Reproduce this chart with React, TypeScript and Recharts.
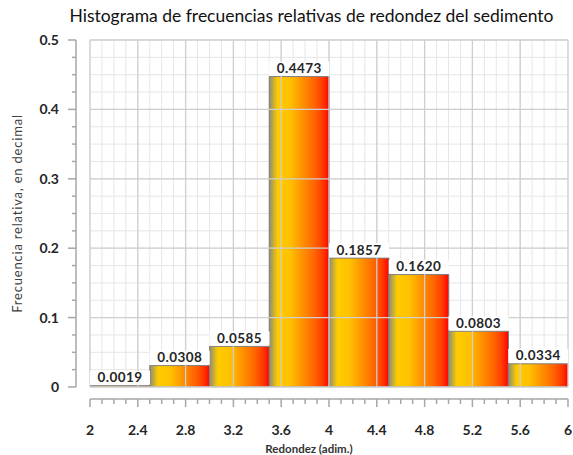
import { Bar, BarChart, CartesianGrid, LabelList, ReferenceLine, XAxis, YAxis } from 'recharts';

const binCenters = [2.25, 2.75, 3.25, 3.75, 4.25, 4.75, 5.25, 5.75];
const frecuencias = [0.0019, 0.0308, 0.0585, 0.4473, 0.1857, 0.162, 0.0803, 0.0334];

const xTicks = [
  2, 2.1, 2.2, 2.3, 2.4, 2.5, 2.6, 2.7, 2.8, 2.9, 3, 3.1, 3.2, 3.3, 3.4, 3.5, 3.6, 3.7, 3.8, 3.9, 4,
  4.1, 4.2, 4.3, 4.4, 4.5, 4.6, 4.7, 4.8, 4.9, 5, 5.1, 5.2, 5.3, 5.4, 5.5, 5.6, 5.7, 5.8, 5.9, 6,
];
const xMajor = [2, 2.4, 2.8, 3.2, 3.6, 4, 4.4, 4.8, 5.2, 5.6, 6];
const yTicks = [
  0, 0.025, 0.05, 0.075, 0.1, 0.125, 0.15, 0.175, 0.2, 0.225, 0.25, 0.275, 0.3, 0.325, 0.35, 0.375,
  0.4, 0.425, 0.45, 0.475, 0.5,
];
const yMajor = [0, 0.1, 0.2, 0.3, 0.4, 0.5];

const data = binCenters.map((mid, i) => ({ mid, frec: frecuencias[i] }));

const FONT = 'Lato, "Open Sans", sans-serif';

const isMajor = (list: number[], v: number) => list.some((m) => Math.abs(m - v) < 1e-6);

function XTick(props: any) {
  const { x, y, payload } = props;
  const major = isMajor(xMajor, payload.value);
  return (
    <g>
      <line x1={x} x2={x} y1={y} y2={y + (major ? 8 : 5)} stroke="#a6a6a6" strokeWidth={1.5} />
      {major && (
        <text x={x} y={y + 36} textAnchor="middle" fontSize={14} fontWeight={700} fill="#262626" fontFamily={FONT}>
          {payload.value}
        </text>
      )}
    </g>
  );
}

function YTick(props: any) {
  const { x, y, payload } = props;
  const major = isMajor(yMajor, payload.value);
  return (
    <g>
      <line x1={x} x2={x - (major ? 8 : 4)} y1={y} y2={y} stroke="#a6a6a6" strokeWidth={1.5} />
      {major && (
        <text x={x - 17} y={y + 5} textAnchor="end" fontSize={14} fontWeight={700} fill="#262626" fontFamily={FONT}>
          {payload.value}
        </text>
      )}
    </g>
  );
}

function BarLabel(props: any) {
  const { x, y, width, value } = props;
  return (
    <g>
      <rect x={x} y={y - 15} width={width} height={14} fill="#ffffff" />
      <text
        x={x + width / 2}
        y={y - 3.5}
        textAnchor="middle"
        fontSize={13.5}
        fontWeight={700}
        letterSpacing={0.4}
        fill="#262626"
        fontFamily={FONT}
      >
        {Number(value).toFixed(4)}
      </text>
    </g>
  );
}

export default function App() {
  return (
    <div style={{ position: 'absolute', left: 0, top: 0, background: '#fff' }}>
      <div
        style={{
          position: 'absolute',
          left: 25,
          top: 5,
          width: 573,
          textAlign: 'center',
          fontFamily: FONT,
          fontSize: 17.5,
          color: '#111',
        }}
      >
        Histograma de frecuencias relativas de redondez del sedimento
      </div>
      <BarChart
        width={573}
        height={455}
        data={data}
        barCategoryGap={0}
        margin={{ top: 40, right: 5, left: 0, bottom: 0 }}
      >
        <defs>
          <linearGradient id="barGrad" x1="0" y1="0" x2="1" y2="0">
            <stop offset="0%" stopColor="#8c8c73" />
            <stop offset="14%" stopColor="#ffcc00" />
            <stop offset="35%" stopColor="#ffc000" />
            <stop offset="55%" stopColor="#ff9200" />
            <stop offset="75%" stopColor="#ff6600" />
            <stop offset="90%" stopColor="#ff3800" />
            <stop offset="100%" stopColor="#ff0000" />
          </linearGradient>
        </defs>
        <CartesianGrid xAxisId="num" yAxisId="y" stroke="#e6e6e6" strokeWidth={1} />
        <XAxis xAxisId="gap" dataKey="mid" height={12} tick={false} axisLine={false} tickLine={false} />
        <XAxis
          xAxisId="num"
          dataKey="mid"
          type="number"
          domain={[2, 6]}
          allowDataOverflow
          ticks={xTicks}
          interval={0}
          height={56}
          tickSize={0}
          tickMargin={0}
          tickLine={false}
          axisLine={{ stroke: '#a6a6a6', strokeWidth: 1.5 }}
          tick={<XTick />}
          label={{
            value: 'Redondez (adim.)',
            position: 'insideBottom',
            offset: 2,
            dx: -20,
            fontSize: 11.5,
            fontWeight: 700,
            fill: '#333',
            fontFamily: FONT,
          }}
        />
        <YAxis
          yAxisId="y"
          domain={[0, 0.5]}
          allowDataOverflow
          ticks={yTicks}
          interval={0}
          width={76}
          tickSize={0}
          tickMargin={0}
          tickLine={false}
          axisLine={{ stroke: '#a6a6a6', strokeWidth: 1.5 }}
          tick={<YTick />}
          label={{
            value: 'Frecuencia relativa, en decimal',
            angle: -90,
            position: 'center',
            dx: -21,
            fontSize: 13,
            letterSpacing: 0.8,
            fill: '#404040',
            fontFamily: FONT,
          }}
        />
        <YAxis yAxisId="pad" width={14} tick={false} axisLine={false} tickLine={false} domain={[0, 1]} />
        {yMajor.map((v) => (
          <ReferenceLine key={'y' + v} yAxisId="y" xAxisId="num" y={v} stroke="#cfcfcf" strokeWidth={1.3} />
        ))}
        {xMajor.map((v) => (
          <ReferenceLine key={'x' + v} yAxisId="y" xAxisId="num" x={v} stroke="#cfcfcf" strokeWidth={1.3} />
        ))}
        <Bar
          dataKey="frec"
          xAxisId="num"
          yAxisId="y"
          fill="url(#barGrad)"
          stroke="#7f7f7f"
          strokeWidth={1}
          isAnimationActive={false}
        >
          <LabelList dataKey="frec" content={<BarLabel />} />
        </Bar>
      </BarChart>
    </div>
  );
}
